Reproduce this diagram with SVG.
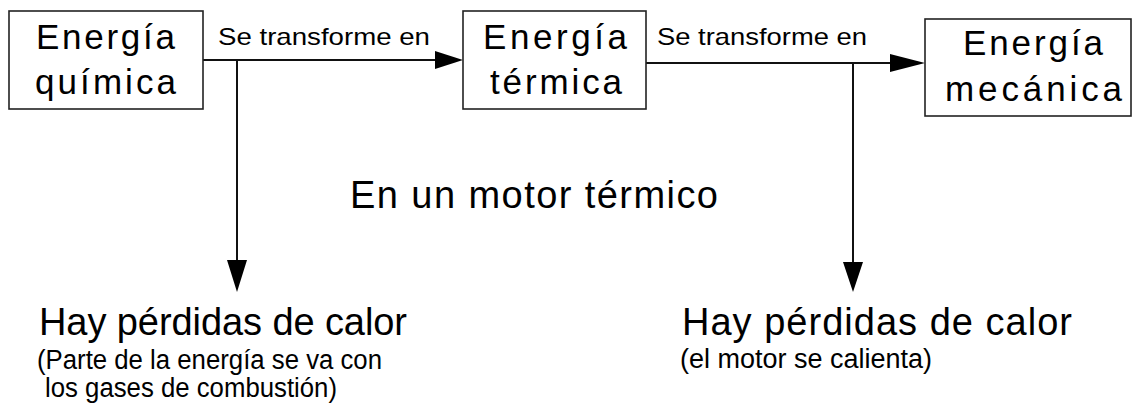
<svg xmlns="http://www.w3.org/2000/svg" width="1133" height="408" viewBox="0 0 1133 408">
<style>
.box{fill:#fff;stroke:#222;stroke-width:1.6}
.t{font-family:"Liberation Sans",Arial,sans-serif;fill:#000}
.bx{font-size:35px}
.big{font-size:38px}
.lbl{font-size:24px}
.sub{font-size:27px}
.ln{stroke:#111;stroke-width:2;fill:none}
.ah{fill:#000}
</style>
<rect width="1133" height="408" fill="#fff"/>
<g id="connectors">
<line class="ln" x1="203" y1="60" x2="437" y2="60"/>
<polygon class="ah" points="435,51 463,60 435,69"/>
<line class="ln" x1="646" y1="63" x2="892" y2="63"/>
<polygon class="ah" points="890,54 925,63 890,72"/>
<line class="ln" x1="237" y1="60" x2="237" y2="262"/>
<polygon class="ah" points="227,260 237,292 247,260"/>
<line class="ln" x1="853" y1="63" x2="853" y2="264"/>
<polygon class="ah" points="843,262 853,292 863,262"/>
<text class="t lbl" x="218" y="45" textLength="212" lengthAdjust="spacingAndGlyphs">Se transforme en</text>
<text class="t lbl" x="657" y="45" textLength="210" lengthAdjust="spacingAndGlyphs">Se transforme en</text>
</g>
<g id="node-quimica">
<rect class="box" x="9" y="11" width="194" height="98"/>
<text class="t bx" x="36" y="49" textLength="139">Energía</text>
<text class="t bx" x="35" y="94" textLength="141">química</text>
</g>
<g id="node-termica">
<rect class="box" x="463" y="11" width="183" height="98"/>
<text class="t bx" x="483" y="49" textLength="144">Energía</text>
<text class="t bx" x="490" y="94" textLength="132">térmica</text>
</g>
<g id="node-mecanica">
<rect class="box" x="925" y="19" width="206" height="97"/>
<text class="t bx" x="963" y="55" textLength="140">Energía</text>
<text class="t bx" x="945" y="101" textLength="177">mecánica</text>
</g>
<g id="title">
<text class="t big" x="350" y="208" textLength="368">En un motor térmico</text>
</g>
<g id="node-perdidas-1">
<text class="t big" x="39" y="335" textLength="368">Hay pérdidas de calor</text>
<text class="t sub" x="37" y="369" textLength="345" lengthAdjust="spacingAndGlyphs">(Parte de la energía se va con</text>
<text class="t sub" x="45" y="397" textLength="292" lengthAdjust="spacingAndGlyphs">los gases de combustión)</text>
</g>
<g id="node-perdidas-2">
<text class="t big" x="682" y="335" textLength="390">Hay pérdidas de calor</text>
<text class="t sub" x="680" y="368" textLength="252" lengthAdjust="spacingAndGlyphs">(el motor se calienta)</text>
</g>
</svg>
